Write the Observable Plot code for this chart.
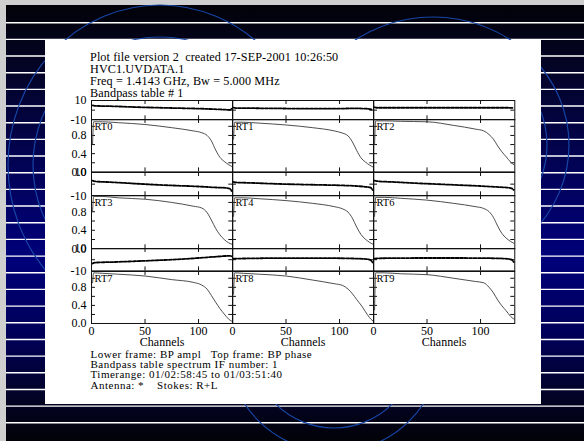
<!DOCTYPE html>
<html><head><meta charset="utf-8">
<script src="https://cdn.jsdelivr.net/npm/d3@7"></script>
<script src="https://cdn.jsdelivr.net/npm/@observablehq/plot@0.6"></script>
<style>
html,body{margin:0;padding:0;}
body{width:584px;height:441px;position:relative;overflow:hidden;background:#cfcfcf;}
#bg{position:absolute;left:6px;top:5px;width:578px;height:436px;
  background:linear-gradient(180deg,#020208 0%,#04042a 16%,#02025c 40%,#00007a 58%,#000058 76%,#030326 90%,#020208 100%);}
#deco{position:absolute;left:0;top:0;}
#panel{position:absolute;left:45px;top:39.5px;width:496px;height:364.5px;background:#fff;}
.txt{position:absolute;font-family:"Liberation Serif",serif;white-space:pre;color:#000;}
.cell{position:absolute;}
</style></head>
<body>
<div id="bg"></div>
<svg id="deco" width="584" height="441"></svg>
<div id="panel"></div>
<div class="txt" style="left:90px;top:50.5px;font-size:12.2px;line-height:12.2px;letter-spacing:0.1px;">Plot file version 2  created 17-SEP-2001 10:26:50
HVC1.UVDATA.1
Freq = 1.4143 GHz, Bw = 5.000 MHz
Bandpass table # 1</div>
<div class="txt" style="left:90.5px;top:349px;font-size:11px;line-height:10.2px;letter-spacing:0.5px;">Lower frame: BP ampl   Top frame: BP phase
Bandpass table spectrum IF number: 1
Timerange: 01/02:58:45 to 01/03:51:40
Antenna: *    Stokes: R+L</div>
<div id="plots"></div>
<script>
// ---- data ----
const panelNames = ["RT0","RT1","RT2","RT3","RT4","RT6","RT7","RT8","RT9"];
const ampChannels = [1, 2, 10, 25, 50, 75, 95, 103, 108, 112, 116, 120, 124, 128, 131];
const ampRT0 = [0.62, 1.10, 1.10, 1.08, 1.04, 0.97, 0.90, 0.86, 0.80, 0.68, 0.48, 0.32, 0.23, 0.16, 0.12];
const ampRT1 = [0.72, 1.09, 1.09, 1.07, 1.03, 0.97, 0.90, 0.85, 0.79, 0.66, 0.47, 0.31, 0.22, 0.15, 0.11];
const ampRT2 = [0.60, 1.12, 1.12, 1.11, 1.10, 1.02, 0.94, 0.90, 0.82, 0.72, 0.57, 0.44, 0.33, 0.22, 0.16];
const ampRT3 = [0.80, 1.13, 1.13, 1.10, 1.07, 1.00, 0.92, 0.88, 0.78, 0.62, 0.44, 0.30, 0.20, 0.13, 0.10];
const ampRT4 = [0.70, 1.10, 1.10, 1.08, 1.04, 0.98, 0.91, 0.86, 0.79, 0.66, 0.47, 0.31, 0.21, 0.14, 0.10];
const ampRT6 = [0.70, 1.11, 1.11, 1.09, 1.05, 0.98, 0.91, 0.87, 0.80, 0.68, 0.49, 0.33, 0.23, 0.16, 0.12];
const ampRT7 = [0.90, 1.12, 1.11, 1.09, 1.05, 0.97, 0.91, 0.85, 0.76, 0.62, 0.47, 0.33, 0.21, 0.10, 0.05];
const ampRT8 = [0.65, 1.12, 1.11, 1.09, 1.05, 0.96, 0.88, 0.84, 0.76, 0.66, 0.53, 0.41, 0.27, 0.13, 0.06];
const ampRT9 = [0.30, 1.12, 1.12, 1.10, 1.08, 1.00, 0.93, 0.90, 0.80, 0.68, 0.52, 0.39, 0.28, 0.16, 0.10];
const phaseChannels = [1, 3, 20, 40, 60, 80, 100, 115, 125, 129, 131];
const phaseRT0 = [5.0, 4.5, 4.0, 3.2, 2.6, 2.1, 1.6, 1.0, 0.5, 0.3, 1.5];
const phaseRT1 = [2.5, 2.2, 2.0, 1.8, 1.6, 1.5, 1.6, 1.8, 1.5, 1.0, 0.0];
const phaseRT2 = [3.0, 2.5, 2.5, 2.5, 2.5, 2.5, 2.5, 2.5, 2.5, 2.4, 2.4];
const phaseRT3 = [3.0, 2.4, 1.6, 0.5, -0.5, -1.3, -2.0, -2.8, -3.2, -3.8, -6.0];
const phaseRT4 = [2.0, 1.5, 1.0, 0.3, -0.2, -0.6, -1.0, -1.6, -2.4, -3.0, -5.0];
const phaseRT6 = [3.0, 2.6, 1.8, 0.8, 0.0, -0.8, -1.6, -2.4, -3.0, -3.6, -5.0];
const phaseRT7 = [-3.5, -2.6, -2.1, -1.4, -0.6, 0.3, 1.5, 2.6, 3.3, 3.5, 3.0];
const phaseRT8 = [1.0, 1.0, 1.2, 1.4, 1.4, 1.4, 1.3, 1.0, 0.5, -0.5, -2.5];
const phaseRT9 = [1.0, 1.2, 1.4, 1.5, 1.5, 1.5, 1.4, 1.2, 0.8, 0.0, -2.0];
const ampSeries = [ampRT0, ampRT1, ampRT2, ampRT3, ampRT4, ampRT6, ampRT7, ampRT8, ampRT9];
const phaseSeries = [phaseRT0, phaseRT1, phaseRT2, phaseRT3, phaseRT4, phaseRT6, phaseRT7, phaseRT8, phaseRT9];
const ampTickLabels = [0, 0.4, 0.8];
const ampTickMarks = [0.2, 0.4, 0.6, 0.8, 1.0];
const phaseTickLabels = [-10, 10];
const phaseTickMarks = [0];
const channelTickLabels = [0, 50, 100];
const channelTickMarks = [50, 100];

// ---- layout ----
const W = 141.3;
const colLeft = [90.7, 232, 373.3];
const phaseTop = [100, 171.7, 248.3];
const phaseH = [19.3, 23.3, 22.4];
const ampTop = [119.3, 195, 270.7];
const ampH = [52.4, 53.3, 52];

// ---- decoration (slide background) ----
const deco = d3.select("#deco");
for (let k = 0; k < 25; k++) {
  const y = 22.7 + k * 16.67;
  deco.append("line").attr("x1", 6).attr("x2", 584).attr("y1", y).attr("y2", y)
    .attr("stroke", "#fff").attr("stroke-width", 1.4);
}
const ell = [[160,165,152,160],[160,165,127,128],[433,145,136,128],[433,145,114,104],[334,345,83,83],[334,345,107,107]];
for (const [cx,cy,rx,ry] of ell) {
  deco.append("ellipse").attr("cx",cx).attr("cy",cy).attr("rx",rx).attr("ry",ry)
    .attr("fill","none").attr("stroke","#1746a6").attr("stroke-width",1.2);
}

// ---- plots ----
const host = document.getElementById("plots");
function makePlot(i, kind) {
  const col = i % 3, row = Math.floor(i / 3);
  const isAmp = kind === "amp";
  const H = isAmp ? ampH[row] : phaseH[row];
  const chs = isAmp ? ampChannels : phaseChannels;
  const vals = (isAmp ? ampSeries : phaseSeries)[i];
  const data = chs.map((c, j) => ({ch: c, v: vals[j]}));
  const showY = col === 0, showX = isAmp && row === 2;
  const yMarks = isAmp ? ampTickMarks : phaseTickMarks;
  const marks = [
    Plot.frame({stroke: "#111"}),
    Plot.tickX(channelTickMarks, {x: d => d, insetBottom: H - 4, stroke: "#111"}),
    Plot.tickX(channelTickMarks, {x: d => d, insetTop: H - 4, stroke: "#111"}),
    Plot.tickY(yMarks, {y: d => d, insetRight: W - 4, stroke: "#111"}),
    Plot.tickY(yMarks, {y: d => d, insetLeft: W - 4, stroke: "#111"}),
    isAmp
      ? Plot.line(data, {x: "ch", y: "v", curve: "monotone-x", stroke: "#3a3a3a", strokeWidth: 0.9})
      : Plot.line(data, {x: "ch", y: "v", curve: "monotone-x", stroke: "#000", strokeWidth: 1.8, strokeDasharray: "3,1.5"})
  ];
  if (isAmp) marks.push(Plot.text([panelNames[i]], {frameAnchor: "top-left", textAnchor: "start", lineAnchor: "top", dx: 3, dy: 3, fontSize: 10.5}));
  if (showX) marks.push(Plot.text(["Channels"], {frameAnchor: "bottom", lineAnchor: "middle", dy: 19, fontSize: 12}));
  const p = Plot.plot({
    width: W, height: H, margin: 0,
    style: {overflow: "visible", background: "transparent", fontFamily: "Liberation Serif, serif", fontSize: "12px", color: "#000"},
    x: {domain: [0, 132], axis: showX ? "bottom" : null, ticks: channelTickLabels, tickSize: 0, tickPadding: 2.5, tickFormat: d => String(d), label: null},
    y: {domain: isAmp ? [0, 1.15] : [-10, 10], axis: showY ? "left" : null,
        ticks: isAmp ? ampTickLabels : phaseTickLabels, tickSize: 0, tickPadding: 5,
        tickFormat: isAmp ? (d => d.toFixed(1)) : (d => String(d)), label: null},
    marks
  });
  const div = document.createElement("div");
  div.className = "cell";
  div.style.left = colLeft[col] + "px";
  div.style.top = (isAmp ? ampTop[row] : phaseTop[row]) + "px";
  div.style.width = W + "px";
  div.style.height = H + "px";
  div.appendChild(p);
  host.appendChild(div);
}
for (let i = 0; i < 9; i++) { makePlot(i, "phase"); makePlot(i, "amp"); }
</script>
</body></html>
